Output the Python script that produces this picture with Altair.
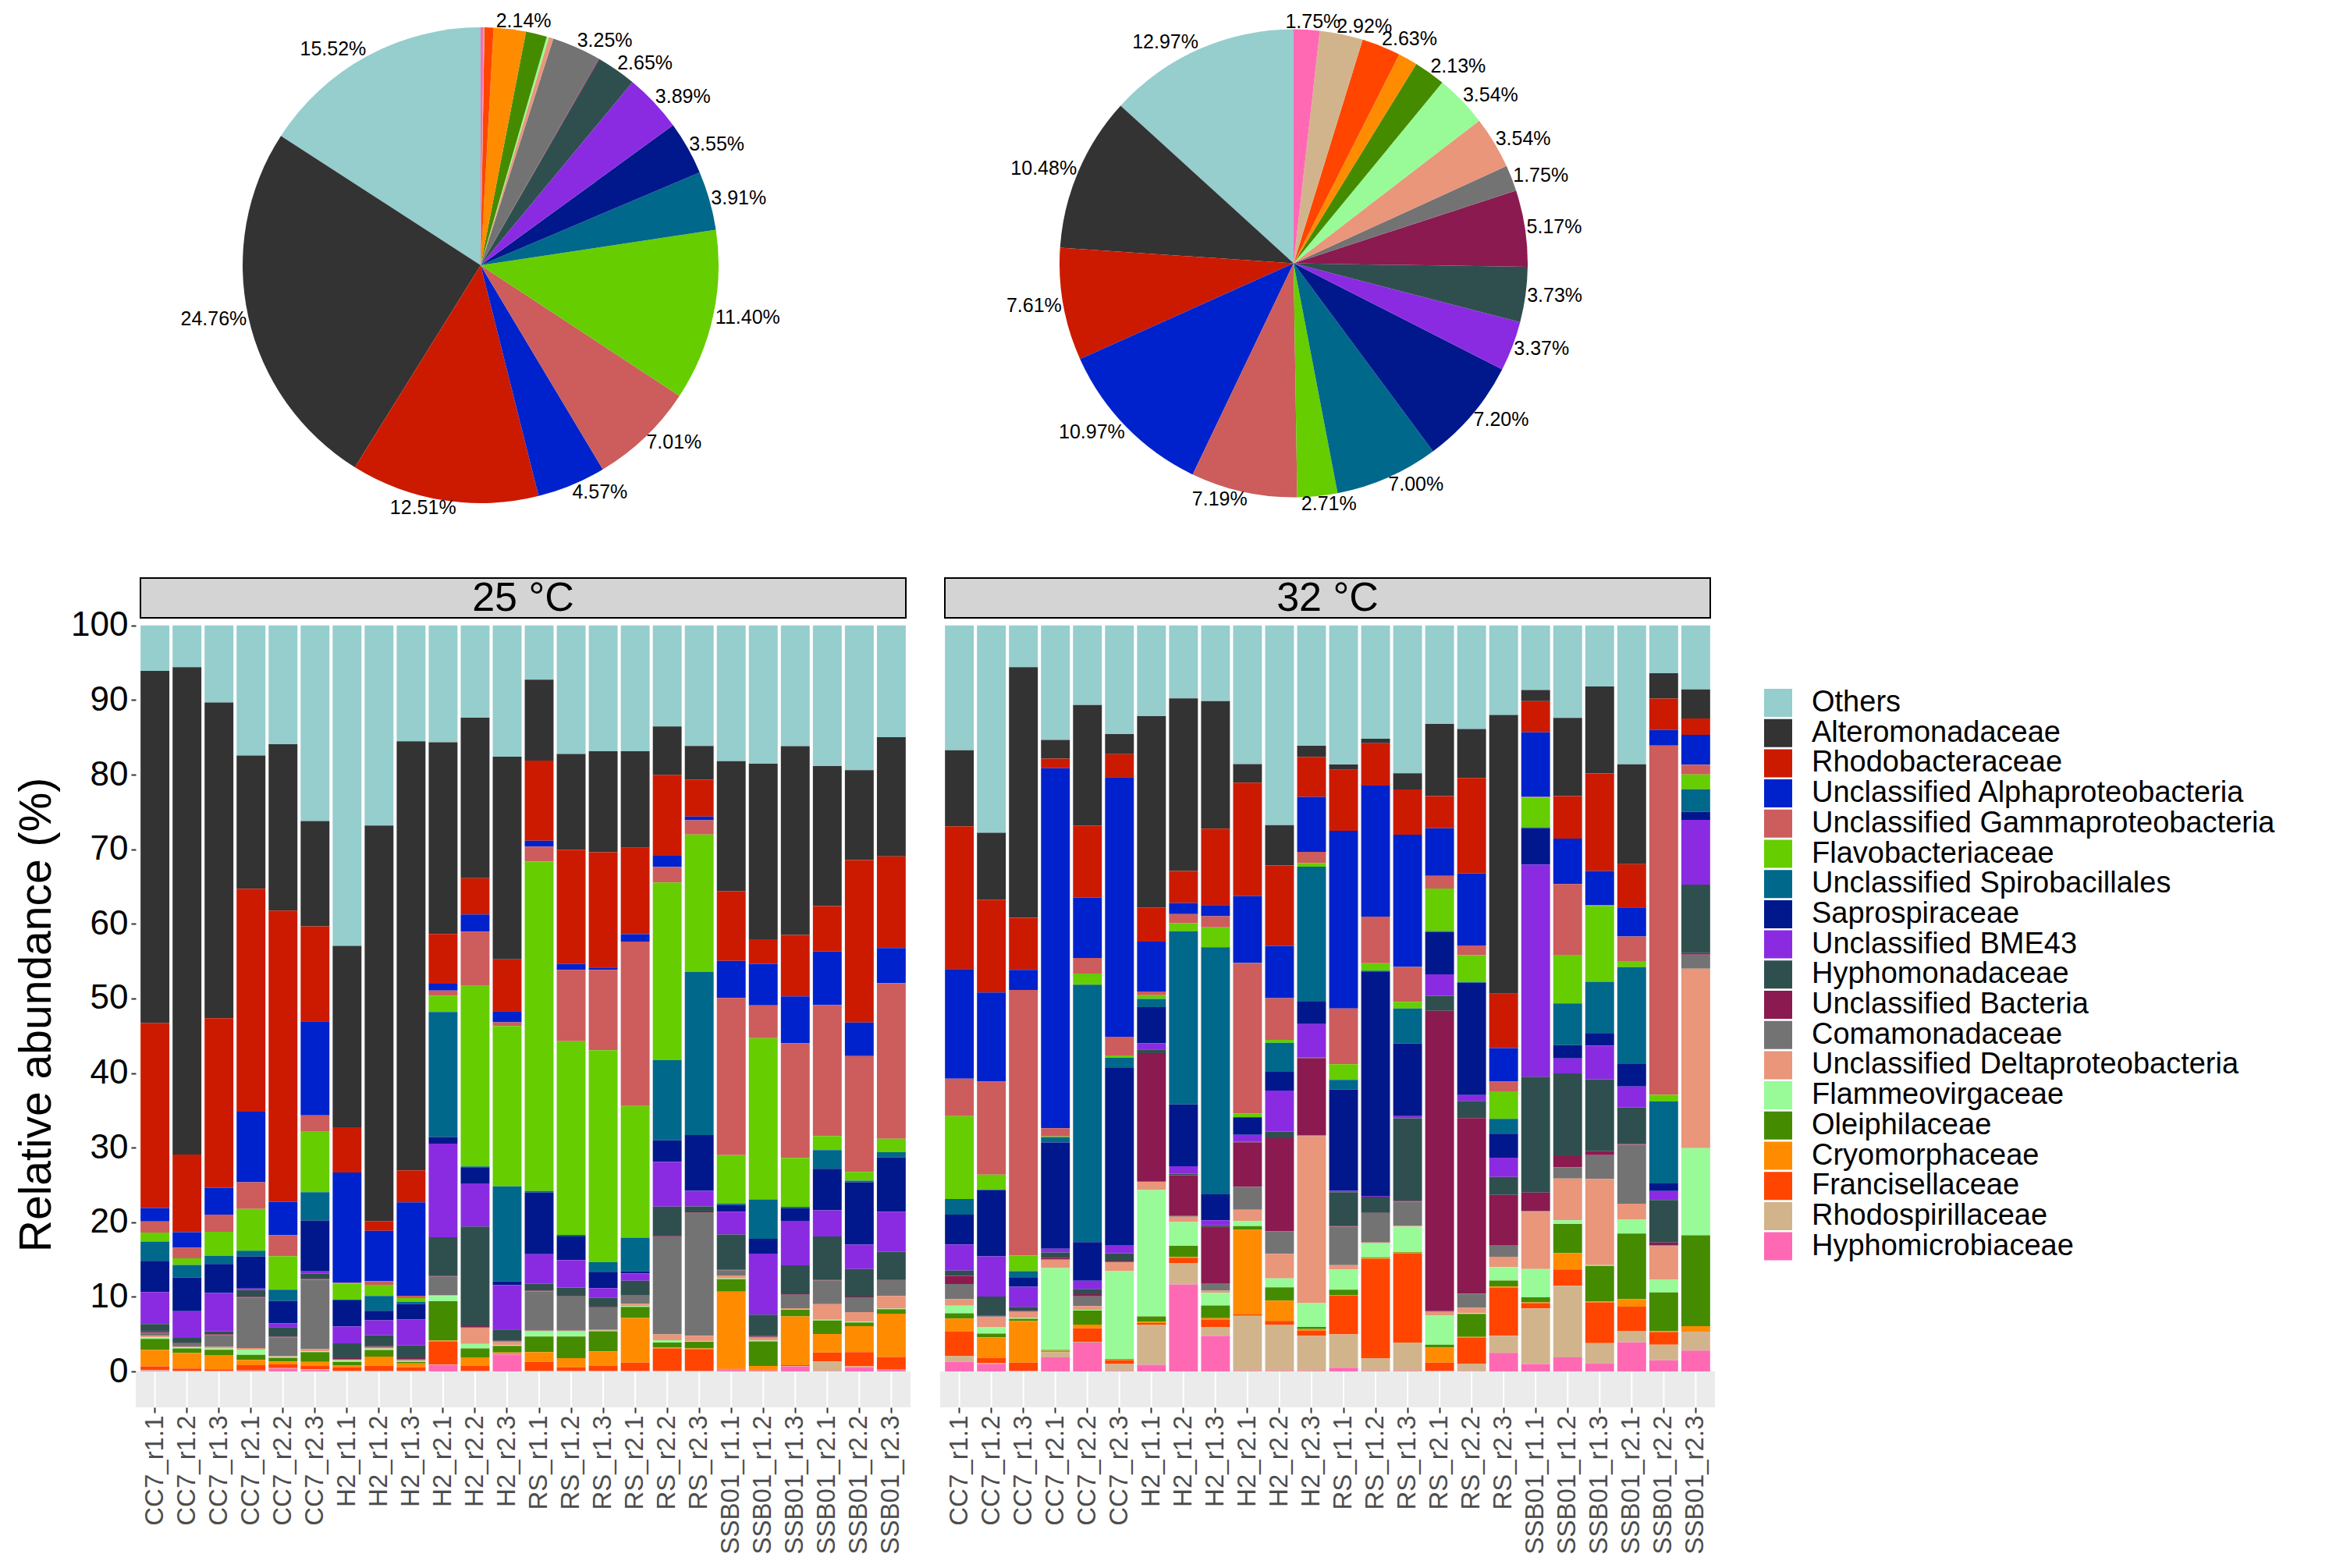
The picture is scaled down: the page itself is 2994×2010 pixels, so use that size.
import altair as alt
import pandas as pd

families = ["Others", "Alteromonadaceae", "Rhodobacteraceae", "Unclassified Alphaproteobacteria",
            "Unclassified Gammaproteobacteria", "Flavobacteriaceae", "Unclassified Spirobacillales",
            "Saprospiraceae", "Unclassified BME43", "Hyphomonadaceae", "Unclassified Bacteria",
            "Comamonadaceae", "Unclassified Deltaproteobacteria", "Flammeovirgaceae", "Oleiphilaceae",
            "Cryomorphaceae", "Francisellaceae", "Rhodospirillaceae", "Hyphomicrobiaceae"]
colors = ["#96CDCD", "#333333", "#CC1A00", "#0022CC", "#CD5C5C", "#66CD00", "#00688B", "#00188B",
          "#8A2BE2", "#2F4F4F", "#8B1A50", "#737373", "#E9967A", "#98FB98", "#458B00", "#FF8C00",
          "#FF4500", "#D2B48C", "#FF69B4"]

samples = ["CC7_r1.1", "CC7_r1.2", "CC7_r1.3", "CC7_r2.1", "CC7_r2.2", "CC7_r2.3",
           "H2_r1.1", "H2_r1.2", "H2_r1.3", "H2_r2.1", "H2_r2.2", "H2_r2.3",
           "RS_r1.1", "RS_r1.2", "RS_r1.3", "RS_r2.1", "RS_r2.2", "RS_r2.3",
           "SSB01_r1.1", "SSB01_r1.2", "SSB01_r1.3", "SSB01_r2.1", "SSB01_r2.2", "SSB01_r2.3"]
temps = ["25 °C", "32 °C"]

# ---- pie charts (overall composition) ----
pie25_values = [15.52, 24.76, 12.51, 4.57, 7.01, 11.40, 3.91, 3.55, 3.89, 2.65, 0.05, 3.25, 0.3, 0.15, 1.4, 2.14, 0.6, 0.05, 0.2]
pie25_labels = ["15.52%", "24.76%", "12.51%", "4.57%", "7.01%", "11.40%", "3.91%", "3.55%", "3.89%", "2.65%",
                "", "3.25%", "", "", "", "2.14%", "", "", ""]
pie32_values = [12.97, 10.48, 7.61, 10.97, 7.19, 2.71, 7.00, 7.20, 3.37, 3.73, 5.17, 1.75, 3.54, 3.54, 2.13, 1.3, 2.63, 2.92, 1.75]
pie32_labels = ["12.97%", "10.48%", "7.61%", "10.97%", "7.19%", "2.71%", "7.00%", "7.20%", "3.37%", "3.73%",
                "5.17%", "1.75%", "3.54%", "3.54%", "2.13%", "", "2.63%", "2.92%", "1.75%"]

# ---- relative abundance per sample, 25 °C ----
oth_25 = [6.1, 5.6, 10.3, 17.5, 15.9, 26.2, 43.3, 27.0, 15.6, 15.7, 12.4, 17.7, 7.3, 17.3, 16.9, 16.9, 13.6, 16.2, 18.3, 18.6, 16.3, 18.9, 19.5, 15.0]
alt_25 = [47.4, 65.4, 42.3, 17.9, 22.3, 14.1, 24.5, 53.4, 57.8, 25.8, 21.6, 27.3, 10.9, 12.9, 13.6, 13.0, 6.5, 4.5, 17.5, 23.6, 25.5, 18.8, 12.1, 16.0]
rho_25 = [24.9, 10.4, 22.7, 30.0, 39.0, 12.7, 6.1, 1.3, 4.3, 6.7, 4.9, 7.0, 10.8, 15.4, 15.5, 11.6, 10.9, 5.0, 9.4, 3.3, 8.3, 6.1, 21.9, 12.3]
alp_25 = [1.8, 2.1, 3.6, 9.5, 4.5, 12.6, 14.9, 6.8, 12.6, 0.9, 2.3, 1.5, 0.8, 0.8, 0.3, 1.0, 1.5, 0.5, 5.0, 5.6, 6.3, 7.2, 4.5, 4.7]
gam_25 = [1.5, 1.4, 2.3, 3.6, 2.8, 2.2, 0.1, 0.5, 0.3, 0.7, 7.3, 0.5, 2.0, 9.6, 10.8, 22.1, 2.1, 1.9, 21.2, 4.4, 15.5, 17.6, 15.6, 20.9]
fla_25 = [1.2, 0.9, 3.2, 5.6, 4.5, 8.1, 2.2, 1.5, 0.5, 2.2, 24.3, 21.6, 44.4, 26.1, 28.5, 17.7, 23.9, 18.5, 6.5, 21.7, 6.6, 1.9, 1.2, 1.8]
spi_25 = [2.6, 1.7, 1.1, 0.8, 1.5, 3.8, 0.1, 2.0, 0.3, 16.8, 0.2, 12.8, 0.2, 0.2, 1.3, 4.5, 10.8, 21.9, 0.2, 5.3, 0.2, 2.5, 0.2, 0.7]
sap_25 = [4.2, 4.5, 3.9, 4.3, 3.0, 6.8, 3.5, 1.3, 2.1, 0.9, 2.1, 0.5, 8.3, 3.2, 2.2, 0.3, 2.9, 7.5, 0.9, 2.0, 1.7, 5.6, 8.4, 7.3]
bme_25 = [4.3, 3.6, 5.1, 0.2, 0.5, 0.3, 2.3, 2.0, 3.5, 12.6, 5.8, 6.0, 4.0, 3.7, 1.3, 1.0, 6.0, 2.1, 3.1, 8.2, 6.0, 3.5, 3.3, 5.4]
hym_25 = [1.0, 0.7, 0.4, 0.9, 1.3, 0.7, 2.0, 1.5, 1.7, 5.2, 13.4, 1.5, 0.9, 1.0, 1.2, 1.9, 4.0, 0.7, 4.7, 2.9, 3.9, 5.8, 3.7, 3.7]
bac_25 = [0.2, 0.1, 0.1, 0.1, 0.1, 0.1, 0.1, 0.1, 0.1, 0.1, 0.1, 0.1, 0.1, 0.1, 0.1, 0.1, 0.1, 0.1, 0.1, 0.1, 0.1, 0.1, 0.1, 0.1]
com_25 = [0.4, 0.4, 1.6, 6.8, 2.5, 9.3, 0.1, 0.1, 0.2, 2.5, 0.1, 0.1, 5.3, 4.7, 3.0, 1.1, 13.1, 16.6, 0.7, 0.1, 1.8, 3.2, 2.0, 2.1]
del_25 = [0.2, 0.1, 0.2, 0.2, 0.1, 0.3, 0.1, 0.1, 0.1, 0.1, 2.2, 0.4, 0.1, 0.1, 0.1, 0.3, 0.8, 0.7, 0.4, 0.4, 0.1, 2.1, 1.3, 1.7]
flm_25 = [0.2, 0.1, 0.2, 0.7, 0.1, 0.1, 0.2, 0.2, 0.1, 0.7, 0.6, 0.1, 0.7, 0.7, 0.1, 0.1, 0.3, 0.1, 0.1, 0.1, 0.1, 0.1, 0.1, 0.1]
ole_25 = [1.5, 0.6, 0.7, 0.7, 0.5, 1.3, 0.5, 0.9, 0.2, 5.3, 1.2, 0.9, 2.1, 2.9, 2.7, 1.5, 0.7, 0.9, 1.7, 3.3, 0.9, 1.8, 0.5, 0.6]
cry_25 = [2.2, 2.1, 1.9, 0.7, 0.4, 0.5, 0.2, 1.2, 0.5, 0.1, 1.1, 0.1, 1.3, 1.2, 1.9, 6.0, 0.1, 0.1, 10.4, 0.5, 6.6, 2.5, 3.5, 5.8]
fra_25 = [0.5, 0.3, 0.2, 0.7, 0.5, 0.5, 0.5, 0.7, 0.5, 3.1, 0.7, 0.1, 1.2, 0.5, 0.7, 1.1, 3.0, 2.9, 0.1, 0.1, 0.1, 1.2, 1.9, 1.7]
rsp_25 = [0.1, 0.05, 0.05, 0.05, 0.05, 0.1, 0.05, 0.05, 0.05, 0.05, 0.05, 0.05, 0.05, 0.05, 0.05, 0.05, 0.05, 0.05, 0.05, 0.05, 0.05, 1.3, 0.1, 0.05]
hmi_25 = [0.1, 0.05, 0.05, 0.1, 0.4, 0.2, 0.05, 0.05, 0.05, 0.9, 0.05, 2.3, 0.05, 0.05, 0.05, 0.05, 0.05, 0.05, 0.2, 0.1, 0.7, 0.05, 0.6, 0.2]

# ---- relative abundance per sample, 32 °C ----
oth_32 = [16.7, 27.9, 5.6, 15.4, 10.7, 14.6, 12.2, 9.8, 10.2, 18.7, 26.8, 16.2, 18.7, 15.3, 19.9, 13.2, 13.9, 12.0, 8.7, 12.4, 8.2, 18.6, 6.4, 8.6]
alt_32 = [10.2, 9.0, 33.7, 2.5, 16.2, 2.7, 25.7, 23.2, 17.2, 2.5, 5.4, 1.5, 0.7, 0.6, 2.2, 9.7, 6.6, 37.4, 1.5, 10.5, 11.7, 13.4, 3.4, 3.9]
rho_32 = [19.1, 12.5, 7.0, 1.3, 9.7, 3.1, 4.6, 4.3, 10.3, 15.3, 10.8, 5.4, 8.2, 5.7, 6.1, 4.3, 12.8, 7.3, 4.2, 5.7, 13.1, 5.8, 4.2, 2.2]
alp_32 = [14.7, 12.0, 2.7, 48.4, 8.1, 34.9, 6.7, 1.5, 1.5, 9.0, 7.0, 7.4, 23.9, 17.7, 17.8, 6.4, 9.7, 4.5, 8.7, 6.1, 4.6, 3.9, 2.1, 4.0]
gam_32 = [5.0, 12.5, 35.7, 1.1, 2.1, 2.5, 0.5, 1.2, 1.5, 20.3, 5.6, 1.5, 7.5, 6.3, 4.7, 1.7, 1.3, 1.3, 0.1, 9.5, 0.1, 3.3, 46.8, 1.3]
fla_32 = [11.1, 2.0, 2.1, 0.1, 1.5, 0.3, 0.5, 1.1, 2.7, 0.5, 0.4, 0.5, 2.1, 1.0, 0.9, 5.7, 3.6, 3.7, 4.0, 6.5, 10.2, 0.8, 0.9, 2.0]
spi_32 = [2.1, 0.1, 0.9, 0.7, 34.6, 1.3, 1.1, 23.3, 33.3, 0.1, 3.9, 18.1, 1.3, 0.1, 4.7, 0.1, 0.1, 2.0, 0.1, 5.6, 6.9, 12.9, 11.0, 3.0]
sap_32 = [4.0, 8.9, 1.2, 14.3, 5.2, 23.9, 4.9, 8.3, 3.5, 2.3, 2.5, 3.1, 13.6, 30.3, 9.8, 5.7, 15.1, 3.2, 4.9, 1.8, 1.7, 3.1, 1.0, 1.1]
bme_32 = [3.5, 5.4, 2.7, 0.5, 1.1, 1.1, 0.8, 1.0, 0.7, 0.9, 5.5, 4.5, 0.2, 0.1, 0.3, 2.9, 0.8, 2.6, 28.6, 2.0, 4.5, 2.8, 1.2, 8.7]
hym_32 = [0.7, 2.6, 0.5, 0.7, 0.7, 1.0, 0.5, 0.2, 0.2, 0.1, 0.9, 0.1, 4.5, 2.2, 11.1, 2.0, 2.3, 2.4, 15.6, 11.1, 9.7, 4.9, 5.7, 9.2]
bac_32 = [1.1, 0.1, 0.1, 0.2, 0.3, 0.1, 17.2, 5.5, 7.6, 6.0, 12.5, 10.4, 0.1, 0.1, 0.1, 40.3, 23.6, 6.8, 2.5, 1.5, 0.5, 0.1, 0.4, 0.2]
com_32 = [2.0, 0.1, 0.1, 0.1, 1.3, 0.1, 0.1, 0.1, 1.0, 3.1, 3.0, 0.1, 5.2, 3.9, 3.3, 0.1, 1.9, 1.5, 0.1, 1.5, 3.2, 7.9, 0.1, 1.9]
del_32 = [0.9, 1.3, 0.8, 1.1, 0.5, 1.2, 1.1, 0.7, 0.3, 1.5, 3.3, 22.5, 0.6, 0.1, 0.1, 0.5, 0.7, 1.4, 7.7, 5.6, 11.6, 2.1, 4.5, 24.1]
flm_32 = [1.0, 0.9, 0.1, 11.0, 0.1, 11.8, 17.0, 3.2, 1.7, 0.7, 1.2, 3.2, 2.7, 1.9, 3.4, 3.9, 0.1, 1.8, 3.8, 0.5, 0.1, 1.9, 1.7, 11.7]
ole_32 = [0.7, 0.5, 0.3, 0.1, 1.9, 0.1, 0.7, 1.5, 1.7, 0.5, 1.8, 0.3, 0.7, 0.1, 0.1, 0.4, 3.1, 0.8, 0.7, 3.9, 4.8, 8.8, 5.2, 12.2]
cry_32 = [1.7, 2.8, 5.6, 0.1, 0.5, 0.1, 0.2, 0.1, 0.2, 11.4, 2.7, 0.2, 0.1, 0.1, 0.1, 2.0, 0.1, 0.2, 0.1, 2.2, 0.1, 1.0, 0.1, 0.7]
fra_32 = [3.3, 0.7, 1.1, 0.1, 1.8, 0.5, 0.2, 0.7, 1.0, 0.2, 0.5, 0.7, 5.2, 13.4, 12.0, 1.1, 3.5, 6.4, 0.7, 2.2, 5.5, 3.3, 1.7, 0.1]
rsp_32 = [0.8, 0.1, 0.05, 0.7, 0.1, 0.9, 5.4, 2.9, 1.2, 7.4, 6.2, 4.7, 4.5, 1.7, 3.8, 0.05, 1.0, 2.3, 7.5, 9.6, 2.7, 1.5, 2.1, 2.5]
hmi_32 = [1.3, 1.0, 0.05, 1.9, 3.9, 0.1, 0.9, 11.7, 4.8, 0.1, 0.1, 0.1, 0.5, 0.1, 0.1, 0.05, 0.05, 2.5, 1.0, 1.9, 1.1, 3.9, 1.5, 2.8]

series_25 = [oth_25, alt_25, rho_25, alp_25, gam_25, fla_25, spi_25, sap_25, bme_25, hym_25,
             bac_25, com_25, del_25, flm_25, ole_25, cry_25, fra_25, rsp_25, hmi_25]
series_32 = [oth_32, alt_32, rho_32, alp_32, gam_32, fla_32, spi_32, sap_32, bme_32, hym_32,
             bac_32, com_32, del_32, flm_32, ole_32, cry_32, fra_32, rsp_32, hmi_32]

rows = []
for temp, series in zip(temps, (series_25, series_32)):
    for k, fam in enumerate(families):
        for s, v in zip(samples, series[k]):
            rows.append({"temp": temp, "sample": s, "family": fam, "ord": k, "value": v})
bars_df = pd.DataFrame(rows)

FONT = "Liberation Sans"

legend = alt.Legend(title=None, orient="none", legendX=2086, legendY=870,
                    symbolType="square", symbolSize=1296, symbolStrokeWidth=0, symbolOpacity=1,
                    labelFontSize=38, labelColor="black", labelFont=FONT, labelLimit=1200,
                    rowPadding=0.7, labelOffset=24, padding=0)
color_enc = alt.Color("family:N", scale=alt.Scale(domain=families, range=colors), legend=legend)
order_enc = alt.Order("ord:Q", sort="descending")

# ---- pies ----
LAB_FS = 25
HW = LAB_FS * 0.283   # half label width per character
HH = LAB_FS * 0.32    # half label height


def pie(values, labels, R, W, H):
    df = pd.DataFrame({"family": families, "ord": list(range(len(families))),
                       "value": values, "label": labels})
    base = (alt.Chart(df)
            .transform_window(cum="sum(value)", sort=[alt.SortField("ord", order="descending")],
                              frame=[None, 0])
            .transform_joinaggregate(total="sum(value)")
            .transform_calculate(mid="(datum.cum - datum.value/2) / datum.total * 2 * PI")
            .transform_calculate(
                lx=f"{W / 2} + {R + 2} * sin(datum.mid)"
                   f" + {HW} * length(datum.label) * clamp(sin(datum.mid) / 0.25, -1, 1)",
                ly=f"{H / 2} - {R + 2 + HH} * cos(datum.mid)"))
    arcs = base.mark_arc(outerRadius=R).encode(
        theta=alt.Theta("value:Q", stack=True), color=color_enc, order=order_enc)
    text = base.mark_text(fontSize=LAB_FS, font=FONT, color="black").encode(
        x=alt.X("lx:Q", scale=None, axis=None), y=alt.Y("ly:Q", scale=None, axis=None),
        text="label:N")
    return alt.layer(arcs, text).properties(width=W, height=H)


pie1 = pie(pie25_values, pie25_labels, 305, 884, 656)
pie2 = pie(pie32_values, pie32_labels, 300, 906, 651)

# ---- stacked bars ----
PW, PH = 993, 1007
Y_MIN, Y_MAX = -0.048, 1.005
zero_px = PH * Y_MAX / (Y_MAX - Y_MIN)
one = pd.DataFrame({"a": [0]})


def panel(temp, show_y):
    d = bars_df[bars_df["temp"] == temp]
    x_enc = alt.X("sample:N", sort=samples,
                  scale=alt.Scale(paddingInner=0.1, paddingOuter=0.15),
                  axis=alt.Axis(title=None, labelAngle=-90, labelFontSize=33, labelFont=FONT,
                                labelColor="#4D4D4D", tickColor="#333333", tickSize=7, tickWidth=2,
                                domain=False, grid=False, labelPadding=3))
    if show_y:
        y_axis = alt.Axis(values=[i / 10 for i in range(11)], labelExpr="round(datum.value*100)",
                          title="Relative abundance (%)", titleFontSize=57, titleFont=FONT,
                          titleFontWeight="normal", titleColor="black", labelFontSize=44,
                          labelFont=FONT, labelColor="black", tickColor="#333333", tickSize=6,
                          tickWidth=2, domain=False, grid=False, labelPadding=4, titlePadding=14)
    else:
        y_axis = None
    gray = alt.Chart(one).mark_rect(color="#EBEBEB").encode(
        x=alt.value(0), x2=alt.value(PW), y=alt.value(zero_px), y2=alt.value(PH))
    grid = alt.Chart(pd.DataFrame({"sample": samples})).mark_rule(color="white", strokeWidth=2).encode(
        x=x_enc, y=alt.value(zero_px), y2=alt.value(PH))
    bars = alt.Chart(d).mark_bar().encode(
        x=x_enc,
        y=alt.Y("value:Q", stack="normalize",
                scale=alt.Scale(domain=[Y_MIN, Y_MAX], nice=False, zero=False), axis=y_axis),
        color=color_enc, order=order_enc)
    strip = alt.Chart(one).mark_rect(fill="#D4D4D4", stroke="black", strokeWidth=2).encode(
        x=alt.value(6), x2=alt.value(PW - 6), y=alt.value(-56), y2=alt.value(-5))
    strip_text = alt.Chart(one).mark_text(fontSize=52, font=FONT, color="black").encode(
        x=alt.value(PW / 2), y=alt.value(-30), text=alt.value(temp))
    return alt.layer(gray, grid, bars, strip, strip_text).properties(width=PW, height=PH)


chart = (alt.concat(pie1, pie2, panel(temps[0], True), panel(temps[1], False),
                    columns=2, spacing=alt.RowColnumber(row=129, column=38), bounds="flush")
         .resolve_scale(theta="independent")
         .properties(padding={"left": 10, "top": 4, "right": 0, "bottom": 0})
         .configure(font=FONT)
         .configure_view(stroke=None))

chart.save("out.html", embed_options={"renderer": "svg", "actions": False})
